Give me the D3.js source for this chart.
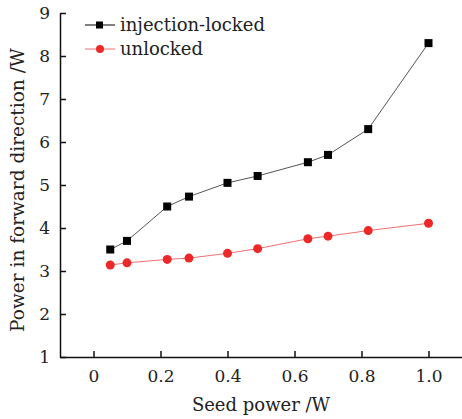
<!DOCTYPE html>
<html>
<head>
<meta charset="utf-8">
<script src="https://cdn.jsdelivr.net/npm/d3@7"></script>
<style>
  body { margin: 0; background: #fff; }
  text { font-family: "DejaVu Serif", "Liberation Serif", serif; fill: #222; }
</style>
</head>
<body>
<script>
// seed power (W)
const seedPower = [0.05, 0.1, 0.22, 0.285, 0.4, 0.49, 0.64, 0.7, 0.82, 1.0];
// forward power (W)
const lockedPower = [3.5, 3.7, 4.5, 4.73, 5.05, 5.21, 5.53, 5.7, 6.3, 8.3];
const unlockedPower = [3.14, 3.19, 3.27, 3.3, 3.41, 3.52, 3.75, 3.81, 3.94, 4.11];
const xTicks = [0, 0.2, 0.4, 0.6, 0.8, 1.0];
const yTicks = [1, 2, 3, 4, 5, 6, 7, 8, 9];
const seriesNames = ["injection-locked", "unlocked"];

const W = 462, H = 419;
const margin = { left: 60, right: 0, top: 13, bottom: 62 };

const svg = d3.select("body").append("svg")
  .attr("width", W)
  .attr("height", H);

const x = d3.scaleLinear().domain([-0.1, 1.1]).range([margin.left, W - margin.right]);
const y = d3.scaleLinear().domain([1, 9]).range([H - margin.bottom, margin.top]);

// axes
const xAxis = svg.append("g")
  .attr("transform", `translate(0,${H - margin.bottom})`)
  .call(d3.axisBottom(x).tickValues(xTicks).tickSizeInner(-6).tickSizeOuter(0)
    .tickFormat(d => d === 0 ? "0" : d3.format(".1f")(d)));
xAxis.select(".domain").attr("stroke", "#111").attr("stroke-width", 1.5);
xAxis.selectAll(".tick line").attr("stroke", "#111").attr("stroke-width", 1.5);
xAxis.selectAll(".tick text").attr("dy", 0).attr("y", 25).attr("font-size", 17);

const yAxis = svg.append("g")
  .attr("transform", `translate(${margin.left},0)`)
  .call(d3.axisLeft(y).tickValues(yTicks).tickSizeInner(-6).tickSizeOuter(0));
yAxis.select(".domain").attr("stroke", "#111").attr("stroke-width", 1.5);
yAxis.selectAll(".tick line").attr("stroke", "#111").attr("stroke-width", 1.5);
yAxis.selectAll(".tick text").attr("x", -10).attr("font-size", 17);
svg.selectAll(".tick text").style("font-family", "DejaVu Serif, serif").attr("fill", "#222");

// axis titles
svg.append("text")
  .attr("x", x(0.5))
  .attr("y", 411)
  .attr("text-anchor", "middle")
  .attr("font-size", 18)
  .text("Seed power /W");

svg.append("text")
  .attr("transform", `translate(24,190) rotate(-90)`)
  .attr("text-anchor", "middle")
  .attr("font-size", 18.5)
  .text("Power in forward direction /W");

// lines
const line = d3.line().x(d => x(d[0])).y(d => y(d[1]));
const locked = seedPower.map((s, i) => [s, lockedPower[i]]);
const unlocked = seedPower.map((s, i) => [s, unlockedPower[i]]);

svg.append("path").datum(unlocked)
  .attr("d", line).attr("fill", "none").attr("stroke", "#f07070").attr("stroke-width", 1);
svg.append("path").datum(locked)
  .attr("d", line).attr("fill", "none").attr("stroke", "#555").attr("stroke-width", 1);

svg.selectAll("rect.locked").data(locked).enter()
  .append("rect").attr("class", "locked")
  .attr("x", d => x(d[0]) - 4).attr("y", d => y(d[1]) - 4)
  .attr("width", 8).attr("height", 8)
  .attr("fill", "#000");

svg.selectAll("circle.unlocked").data(unlocked).enter()
  .append("circle").attr("class", "unlocked")
  .attr("cx", d => x(d[0])).attr("cy", d => y(d[1]))
  .attr("r", 4.5)
  .attr("fill", "#ec2828");

// legend
const legend = svg.append("g");
seriesNames.forEach((name, i) => {
  const ly = 25 + i * 24;
  legend.append("line").attr("x1", 85).attr("x2", 115).attr("y1", ly).attr("y2", ly)
    .attr("stroke", i === 0 ? "#000" : "#f07070").attr("stroke-width", 1);
  if (i === 0) {
    legend.append("rect").attr("x", 96).attr("y", ly - 3.5).attr("width", 7).attr("height", 7).attr("fill", "#000");
  } else {
    legend.append("circle").attr("cx", 100).attr("cy", ly).attr("r", 4).attr("fill", "#ec2828");
  }
  legend.append("text").attr("x", 120).attr("y", ly + 6).attr("font-size", 18).text(name);
});
</script>
</body>
</html>
